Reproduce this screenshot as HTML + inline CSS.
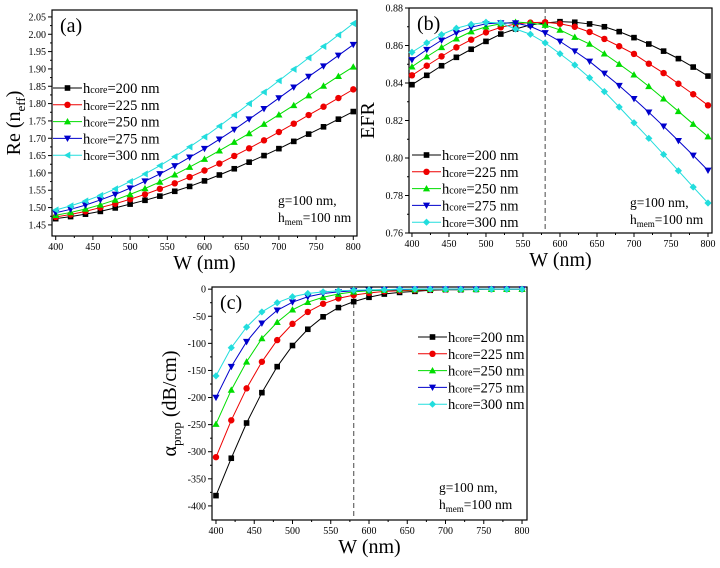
<!DOCTYPE html>
<html><head><meta charset="utf-8">
<style>
body{margin:0;background:#fff;}
svg{display:block;}
svg text{font-family:"Liberation Serif","Times New Roman",serif;}
</style></head>
<body>
<svg id="fig" width="720" height="568" viewBox="0 0 720 568" xmlns="http://www.w3.org/2000/svg" font-family="Liberation Serif, serif"></svg>
<script>
const wValues=[400,420,440,460,480,500,520,540,560,580,600,620,640,660,680,700,720,740,760,780,800];
const seriesNames=["200","225","250","275","300"];
const colors=["#000000","#ee0000","#00dd00","#0000cc","#22dddd"];
const reA200=[1.468,1.474,1.481,1.489,1.499,1.510,1.521,1.533,1.547,1.561,1.577,1.594,1.612,1.631,1.650,1.670,1.691,1.712,1.733,1.755,1.777];
const reA225=[1.473,1.480,1.489,1.500,1.511,1.524,1.538,1.554,1.570,1.588,1.607,1.627,1.649,1.671,1.694,1.718,1.742,1.767,1.791,1.816,1.841];
const reA250=[1.478,1.486,1.496,1.508,1.522,1.538,1.555,1.574,1.595,1.617,1.640,1.664,1.689,1.714,1.741,1.768,1.795,1.823,1.851,1.879,1.906];
const reA275=[1.485,1.495,1.507,1.522,1.538,1.556,1.576,1.597,1.620,1.645,1.670,1.697,1.725,1.755,1.785,1.816,1.847,1.878,1.908,1.939,1.970];
const reA300=[1.493,1.505,1.519,1.535,1.554,1.575,1.597,1.621,1.647,1.675,1.704,1.735,1.767,1.800,1.833,1.866,1.899,1.932,1.965,1.998,2.031];
const efr200=[0.8391,0.8441,0.8492,0.8537,0.8580,0.8622,0.8661,0.8688,0.8710,0.8720,0.8727,0.8724,0.8715,0.8700,0.8674,0.8642,0.8608,0.8570,0.8530,0.8485,0.8437];
const efr225=[0.8441,0.8492,0.8542,0.8590,0.8631,0.8670,0.8697,0.8715,0.8722,0.8724,0.8716,0.8700,0.8672,0.8635,0.8596,0.8555,0.8503,0.8453,0.8396,0.8340,0.8281];
const efr250=[0.8487,0.8540,0.8590,0.8636,0.8674,0.8700,0.8716,0.8725,0.8720,0.8709,0.8683,0.8645,0.8608,0.8556,0.8501,0.8444,0.8382,0.8316,0.8249,0.8181,0.8114];
const efr275=[0.8523,0.8578,0.8628,0.8667,0.8697,0.8716,0.8720,0.8720,0.8702,0.8667,0.8622,0.8570,0.8515,0.8451,0.8386,0.8316,0.8244,0.8169,0.8092,0.8014,0.7934];
const efr300=[0.8564,0.8614,0.8658,0.8692,0.8713,0.8724,0.8720,0.8688,0.8660,0.8614,0.8556,0.8496,0.8428,0.8354,0.8272,0.8188,0.8105,0.8019,0.7932,0.7845,0.7760];
const loss200=[-381,-312,-247,-191,-143,-104,-74,-51,-34,-23,-15,-9,-6,-4,-2,-1,-1,-0.5,0,0,0];
const loss225=[-310,-242,-183,-134,-94,-64,-42,-27,-17,-11,-7,-4,-3,-2,-1,-0.5,0,0,0,0,0];
const loss250=[-249,-186,-134,-91,-61,-38,-24,-15,-9,-5,-3,-2,-1,-1,0,0,0,0,0,0,0];
const loss275=[-200,-143,-97,-63,-39,-24,-14,-8,-5,-3,-2,-1,-1,0,0,0,0,0,0,0,0];
const loss300=[-160,-108,-70,-42,-25,-14,-8,-5,-3,-2,-1,-1,0,0,0,0,0,0,0,0,0];
const xTicks=[400,450,500,550,600,650,700,750,800];
const yTicksA=["1.45","1.50","1.55","1.60","1.65","1.70","1.75","1.80","1.85","1.90","1.95","2.00","2.05"];
const yTicksB=["0.76","0.78","0.80","0.82","0.84","0.86","0.88"];
const yTicksC=["-400","-350","-300","-250","-200","-150","-100","-50","0"];

const NS="http://www.w3.org/2000/svg";
const svg=document.getElementById('fig');
const FF='Liberation Serif, serif';
function mk(tag,attrs,parent){const e=document.createElementNS(NS,tag);for(const k in attrs)e.setAttribute(k,attrs[k]);if(tag==='text')e.setAttribute('font-family',FF);(parent||svg).appendChild(e);return e;}

function marker(g,shape,x,y,c){
  let e;const s=2.8;
  if(shape==='sq')e=mk('rect',{x:x-s,y:y-s,width:2*s,height:2*s,fill:c},g);
  else if(shape==='ci')e=mk('circle',{cx:x,cy:y,r:3.2,fill:c},g);
  else if(shape==='up')e=mk('polygon',{points:`${x},${y-3.6} ${x-3.6},${y+2.8} ${x+3.6},${y+2.8}`,fill:c},g);
  else if(shape==='dn')e=mk('polygon',{points:`${x},${y+3.6} ${x-3.6},${y-2.8} ${x+3.6},${y-2.8}`,fill:c},g);
  else if(shape==='lt')e=mk('polygon',{points:`${x-3.6},${y} ${x+2.8},${y-3.6} ${x+2.8},${y+3.6}`,fill:c},g);
  else e=mk('polygon',{points:`${x},${y-3.6} ${x+3.6},${y} ${x},${y+3.6} ${x-3.6},${y}`,fill:c},g);
  
  
}

function panel(cfg){
  const g=mk('g',{});
  
  
  const {L,R,T,B,x0,x1,y0,y1}=cfg;
  const sx=v=>L+(v-x0)/(x1-x0)*(R-L);
  const sy=v=>B-(v-y0)/(y1-y0)*(B-T);
  const ax=mk('g',{stroke:'#000','stroke-width':1},g);
  
  
  xTicks.forEach(t=>{
    mk('line',{x1:sx(t),y1:B,x2:sx(t),y2:B+4},ax);
    if(t<800)mk('line',{x1:sx(t+25),y1:B,x2:sx(t+25),y2:B+2},ax);
    const tx=mk('text',{x:sx(t),y:B+14,'font-size':10,'text-anchor':'middle',fill:'#000'},g);
    tx.textContent=t;
    
    
  });
  cfg.yTicks.forEach((lab,i)=>{
    const v=parseFloat(lab);
    mk('line',{x1:L,y1:sy(v),x2:L-4,y2:sy(v)},ax);
    if(i<cfg.yTicks.length-1)mk('line',{x1:L,y1:sy(v+cfg.ystep/2),x2:L-2,y2:sy(v+cfg.ystep/2)},ax);
    const tx=mk('text',{x:L-6,y:sy(v)+3.5,'font-size':10,'text-anchor':'end',fill:'#000'},g);
    tx.textContent=lab;
    
    
  });
  const box=mk('rect',{x:L,y:T,width:R-L,height:B-T,fill:'none',stroke:'#000','stroke-width':1.2},g);
  
  
  if(cfg.dash){const d=mk('line',{x1:sx(580),y1:T,x2:sx(580),y2:B,stroke:'#666','stroke-dasharray':'5,3','stroke-width':1.2},g);
    }
  cfg.series.forEach((arr,si)=>{
    const sg=mk('g',{},g);
    
    
    const pts=arr.map((v,i)=>sx(wValues[i])+','+sy(v)).join(' ');
    mk('polyline',{points:pts,fill:'none',stroke:colors[si],'stroke-width':1},sg);
    arr.forEach((v,i)=>marker(sg,cfg.shapes[si],sx(wValues[i]),sy(v),colors[si]));
  });
  const lg=mk('g',{},g);
  
  
  seriesNames.forEach((n,i)=>{
    const y=cfg.legY+i*16.8;
    const le=mk('g',{},lg);
    
    
    mk('line',{x1:cfg.legX,y1:y,x2:cfg.legX+29,y2:y,stroke:colors[i],'stroke-width':1},le);
    marker(le,cfg.shapes[i],cfg.legX+14.5,y,colors[i]);
    const t=mk('text',{x:cfg.legX+30,y:y+5,'font-size':14.5},le);
    t.innerHTML='h<tspan font-size="10">core</tspan>='+n+' nm';
  });
  const a1=mk('text',{x:cfg.annX,y:cfg.annY,'font-size':13.5},g);
  a1.textContent='g=100 nm,';
  
  const a2=mk('text',{x:cfg.annX,y:cfg.annY+17,'font-size':13.5},g);
  a2.innerHTML='h<tspan font-size="9" dy="3">mem</tspan><tspan dy="-3">=100 nm</tspan>';
  
  const pl=mk('text',{x:L+8,y:T+22,'font-size':20},g);
  pl.textContent=cfg.label;
  
  const xl=mk('text',{x:(L+R)/2,y:B+33,'font-size':20,'text-anchor':'middle'},g);
  xl.textContent='W (nm)';
  
  const yl=mk('text',{x:0,y:0,'font-size':20,'text-anchor':'middle',transform:`translate(${cfg.ylX},${(T+B)/2}) rotate(-90)`},g);
  yl.innerHTML=cfg.ylab;
  
}

panel({name:'panel-a-re-neff',label:'(a)',L:52,R:357,T:10,B:236,x0:395,x1:805,y0:1.418,y1:2.07,ystep:0.05,yTicks:yTicksA,
  series:[reA200,reA225,reA250,reA275,reA300],shapes:['sq','ci','up','dn','lt'],legX:53,legY:88,annX:278,annY:205,
  ylX:20,ylab:'Re (n<tspan font-size="13" dy="5">eff</tspan><tspan dy="-5">)</tspan>'});
panel({name:'panel-b-efr',label:'(b)',L:409,R:712,T:8,B:233,x0:396,x1:805.4,y0:0.76,y1:0.88,ystep:0.02,yTicks:yTicksB,dash:true,
  series:[efr200,efr225,efr250,efr275,efr300],shapes:['sq','ci','up','dn','di'],legX:412,legY:155,annX:630,annY:207,
  ylX:374,ylab:'EFR'});
panel({name:'panel-c-loss',label:'(c)',L:212,R:527,T:287,B:520,x0:394.8,x1:806.5,y0:-426,y1:4,ystep:50,yTicks:yTicksC,dash:true,
  series:[loss200,loss225,loss250,loss275,loss300],shapes:['sq','ci','up','dn','di'],legX:418,legY:337,annX:439,annY:492,
  ylX:176,ylab:'α<tspan font-size="13" dy="5">prop</tspan><tspan dy="-5"> (dB/cm)</tspan>'});
</script>
</body></html>
